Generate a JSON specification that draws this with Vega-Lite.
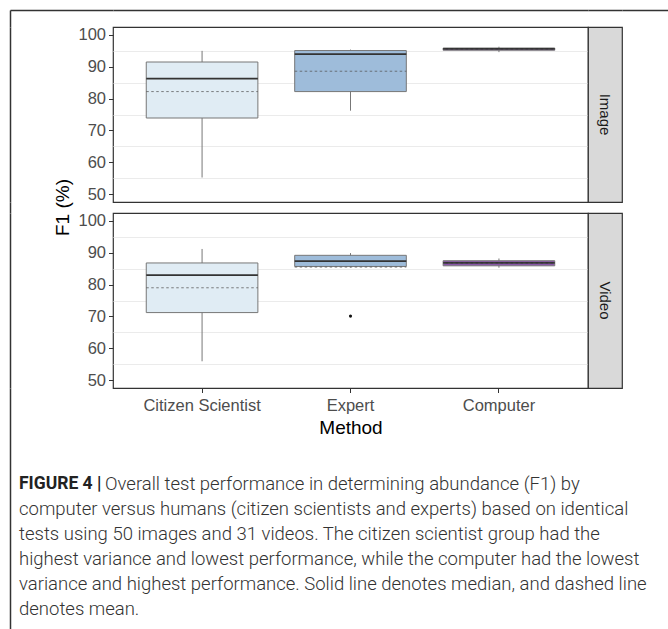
{
  "$schema": "https://vega.github.io/schema/vega-lite/v6.json",
  "padding": {"left": 10, "top": 10, "right": 0, "bottom": 0},
  "background": "white",
  "config": {
    "font": "Liberation Sans",
    "view": {"stroke": null},
    "axisY": {"domain": false, "tickColor": "#333", "tickSize": 4.5, "tickWidth": 1, "labelColor": "#4d4d4d", "labelFontSize": 16.5, "labelPadding": 3, "labelFont": "Liberation Sans", "labelOverlap": false},
    "axisX": {"domain": false, "grid": false, "tickColor": "#333", "tickSize": 4.5, "tickWidth": 1, "labelColor": "#4d4d4d", "labelFontSize": 16.5, "labelPadding": 5, "labelAngle": 0, "labelFont": "Liberation Sans", "titleFontSize": 19, "titleColor": "#000", "titleFontWeight": "normal", "titleFont": "Liberation Sans", "titlePadding": 4}
  },
  "datasets": {
    "box": [
      {"panel": "Image", "method": "Citizen Scientist", "lower": 55.2, "q1": 73.9, "median": 86.3, "q3": 91.5, "upper": 95.0, "mean": 82.2},
      {"panel": "Image", "method": "Expert", "lower": 76.2, "q1": 82.2, "median": 94.0, "q3": 95.1, "upper": 95.4, "mean": 88.6},
      {"panel": "Image", "method": "Computer", "lower": 94.6, "q1": 95.2, "median": 95.6, "q3": 95.9, "upper": 96.3, "mean": 95.5},
      {"panel": "Video", "method": "Citizen Scientist", "lower": 55.9, "q1": 71.2, "median": 83.0, "q3": 86.8, "upper": 91.2, "mean": 79.0},
      {"panel": "Video", "method": "Expert", "lower": 85.4, "q1": 85.7, "median": 87.4, "q3": 89.2, "upper": 89.9, "mean": 85.5},
      {"panel": "Video", "method": "Computer", "lower": 85.3, "q1": 85.9, "median": 86.8, "q3": 87.5, "upper": 88.2, "mean": 86.7}
    ],
    "outliers": [
      {"panel": "Video", "method": "Expert", "value": 70.1}
    ],
    "caption": [
      {"line": 1, "part": "bold", "text": "FIGURE 4 |"},
      {"line": 1, "part": "lead", "text": "Overall test performance in determining abundance (F1) by"},
      {"line": 2, "part": "body", "text": "computer versus humans (citizen scientists and experts) based on identical"},
      {"line": 3, "part": "body", "text": "tests using 50 images and 31 videos. The citizen scientist group had the"},
      {"line": 4, "part": "body", "text": "highest variance and lowest performance, while the computer had the lowest"},
      {"line": 5, "part": "body", "text": "variance and highest performance. Solid line denotes median, and dashed line"},
      {"line": 6, "part": "body", "text": "denotes mean."}
    ]
  },
  "bounds": "flush",
  "spacing": 0,
  "columns": 4,
  "concat": [
    {
      "width": 103, "height": 17, "data": {"values": []}, "mark": "point",
      "encoding": {
        "x": {"field": "v", "type": "quantitative", "scale": {"domain": [0, 1]}, "axis": {"orient": "top", "domain": true, "domainColor": "#333", "domainWidth": 1.5, "ticks": false, "labels": false, "grid": false, "title": null}},
        "y": {"field": "w", "type": "quantitative", "scale": {"domain": [0, 1]}, "axis": {"orient": "left", "domain": true, "domainColor": "#333", "domainWidth": 1.5, "ticks": false, "labels": false, "grid": false, "title": null}}
      }
    },
    {
      "width": 475, "height": 17, "data": {"values": []}, "mark": "point",
      "encoding": {"x": {"field": "v", "type": "quantitative", "scale": {"domain": [0, 1]}, "axis": {"orient": "top", "domain": true, "domainColor": "#333", "domainWidth": 1.5, "ticks": false, "labels": false, "grid": false, "title": null}}}
    },
    {
      "width": 34, "height": 17, "data": {"values": []}, "mark": "point",
      "encoding": {"x": {"field": "v", "type": "quantitative", "scale": {"domain": [0, 1]}, "axis": {"orient": "top", "domain": true, "domainColor": "#333", "domainWidth": 1.5, "ticks": false, "labels": false, "grid": false, "title": null}}}
    },
    {
      "width": 46, "height": 17, "data": {"values": []}, "mark": "point",
      "encoding": {"x": {"field": "v", "type": "quantitative", "scale": {"domain": [0, 1]}, "axis": {"orient": "top", "domain": true, "domainColor": "#333", "domainWidth": 1.5, "ticks": false, "labels": false, "grid": false, "title": null}}}
    },

    {
      "width": 103, "height": 175, "data": {"values": []}, "mark": "point",
      "encoding": {"y": {"field": "w", "type": "quantitative", "scale": {"domain": [0, 1]}, "axis": {"orient": "left", "domain": true, "domainColor": "#333", "domainWidth": 1.5, "ticks": false, "labels": false, "grid": false, "title": null}}}
    },
    {
      "width": 475, "height": 175,
      "view": {"stroke": "#333", "strokeWidth": 1.2},
      "data": {"name": "box"},
      "transform": [{"filter": "datum.panel === 'Image'"}],
      "resolve": {"axis": {"x": "independent", "y": "independent"}},
      "layer": [
        {
          "mark": {"type": "rule", "color": "#777", "strokeWidth": 1},
          "encoding": {
            "x": {"field": "method", "type": "nominal", "scale": {"type": "band", "domain": ["Citizen Scientist", "Expert", "Computer"], "paddingInner": 0.248, "paddingOuter": 0.224}, "axis": null},
            "y": {"field": "lower", "type": "quantitative", "scale": {"domain": [47.5, 102.5], "nice": false, "zero": false},
              "axis": {"orient": "left", "values": [50, 55, 60, 65, 70, 75, 80, 85, 90, 95, 100], "grid": true, "gridColor": "#ebebeb", "gridWidth": 1,
                "gridOpacity": {"condition": {"test": "datum.value % 10 === 0", "value": 0}, "value": 1},
                "tickOpacity": {"condition": {"test": "datum.value % 10 === 0", "value": 1}, "value": 0},
                "labelExpr": "datum.value % 10 === 0 ? datum.label : ''",
                "title": "F1 (%)", "titleX": -51, "titleY": 180, "titleAngle": -90, "titleBaseline": "middle", "titleAlign": "center", "titleFontSize": 19, "titleColor": "#000", "titleFontWeight": "normal", "titleFont": "Liberation Sans"}},
            "y2": {"field": "upper"}
          }
        },
        {
          "mark": {"type": "bar", "stroke": "#777", "strokeWidth": 1},
          "encoding": {
            "x": {"field": "method", "type": "nominal", "scale": {"type": "band", "domain": ["Citizen Scientist", "Expert", "Computer"], "paddingInner": 0.248, "paddingOuter": 0.224}, "axis": null},
            "y": {"field": "q1", "type": "quantitative", "scale": {"domain": [47.5, 102.5], "nice": false, "zero": false}, "axis": null},
            "y2": {"field": "q3"},
            "fill": {"field": "method", "type": "nominal", "scale": {"domain": ["Citizen Scientist", "Expert", "Computer"], "range": ["#e0ecf4", "#9ebcda", "#8856a7"]}, "legend": null}
          }
        },
        {
          "mark": {"type": "rule", "color": "#333", "strokeWidth": 1.8},
          "encoding": {
            "x": {"field": "method", "type": "nominal", "bandPosition": 0, "scale": {"type": "band", "domain": ["Citizen Scientist", "Expert", "Computer"], "paddingInner": 0.248, "paddingOuter": 0.224}, "axis": null},
            "x2": {"field": "method", "bandPosition": 1},
            "y": {"field": "median", "type": "quantitative", "scale": {"domain": [47.5, 102.5], "nice": false, "zero": false}, "axis": null}
          }
        },
        {
          "mark": {"type": "rule", "color": "#555", "opacity": 0.75, "strokeWidth": 1, "strokeDash": [2.5, 2.5]},
          "encoding": {
            "x": {"field": "method", "type": "nominal", "bandPosition": 0, "scale": {"type": "band", "domain": ["Citizen Scientist", "Expert", "Computer"], "paddingInner": 0.248, "paddingOuter": 0.224}, "axis": null},
            "x2": {"field": "method", "bandPosition": 1},
            "y": {"field": "mean", "type": "quantitative", "scale": {"domain": [47.5, 102.5], "nice": false, "zero": false}, "axis": null}
          }
        }
      ]
    },
    {
      "width": 34, "height": 175,
      "view": {"fill": "#d9d9d9", "stroke": "#333", "strokeWidth": 1.2},
      "data": {"values": [{"panel": "Image"}]},
      "mark": {"type": "text", "angle": 90, "fontSize": 15, "color": "#1a1a1a", "font": "Liberation Sans", "align": "center", "baseline": "middle"},
      "encoding": {"text": {"field": "panel"}}
    },
    {"width": 46, "height": 175, "data": {"values": []}, "mark": "point"},

    {
      "width": 103, "height": 11, "data": {"values": []}, "mark": "point",
      "encoding": {"y": {"field": "w", "type": "quantitative", "scale": {"domain": [0, 1]}, "axis": {"orient": "left", "domain": true, "domainColor": "#333", "domainWidth": 1.5, "ticks": false, "labels": false, "grid": false, "title": null}}}
    },
    {"width": 475, "height": 11, "data": {"values": []}, "mark": "point"},
    {"width": 34, "height": 11, "data": {"values": []}, "mark": "point"},
    {"width": 46, "height": 11, "data": {"values": []}, "mark": "point"},

    {
      "width": 103, "height": 175, "data": {"values": []}, "mark": "point",
      "encoding": {"y": {"field": "w", "type": "quantitative", "scale": {"domain": [0, 1]}, "axis": {"orient": "left", "domain": true, "domainColor": "#333", "domainWidth": 1.5, "ticks": false, "labels": false, "grid": false, "title": null}}}
    },
    {
      "width": 475, "height": 175,
      "view": {"stroke": "#333", "strokeWidth": 1.2},
      "resolve": {"axis": {"x": "independent", "y": "independent"}},
      "layer": [
        {
          "data": {"name": "box"},
          "transform": [{"filter": "datum.panel === 'Video'"}],
          "mark": {"type": "rule", "color": "#777", "strokeWidth": 1},
          "encoding": {
            "x": {"field": "method", "type": "nominal", "title": "Method", "scale": {"type": "band", "domain": ["Citizen Scientist", "Expert", "Computer"], "paddingInner": 0.248, "paddingOuter": 0.224}, "axis": {"orient": "bottom", "title": "Method"}},
            "y": {"field": "lower", "type": "quantitative", "title": null, "scale": {"domain": [47.5, 102.5], "nice": false, "zero": false},
              "axis": {"orient": "left", "values": [50, 55, 60, 65, 70, 75, 80, 85, 90, 95, 100], "grid": true, "gridColor": "#ebebeb", "gridWidth": 1, "gridOpacity": {"condition": {"test": "datum.value % 10 === 0", "value": 0}, "value": 1}, "tickOpacity": {"condition": {"test": "datum.value % 10 === 0", "value": 1}, "value": 0}, "labelExpr": "datum.value % 10 === 0 ? datum.label : ''", "title": null}},
            "y2": {"field": "upper"}
          }
        },
        {
          "data": {"name": "box"},
          "transform": [{"filter": "datum.panel === 'Video'"}],
          "mark": {"type": "bar", "stroke": "#777", "strokeWidth": 1},
          "encoding": {
            "x": {"field": "method", "type": "nominal", "scale": {"type": "band", "domain": ["Citizen Scientist", "Expert", "Computer"], "paddingInner": 0.248, "paddingOuter": 0.224}, "axis": null},
            "y": {"field": "q1", "type": "quantitative", "scale": {"domain": [47.5, 102.5], "nice": false, "zero": false}, "axis": null},
            "y2": {"field": "q3"},
            "fill": {"field": "method", "type": "nominal", "scale": {"domain": ["Citizen Scientist", "Expert", "Computer"], "range": ["#e0ecf4", "#9ebcda", "#8856a7"]}, "legend": null}
          }
        },
        {
          "data": {"name": "box"},
          "transform": [{"filter": "datum.panel === 'Video'"}],
          "mark": {"type": "rule", "color": "#333", "strokeWidth": 1.8},
          "encoding": {
            "x": {"field": "method", "type": "nominal", "bandPosition": 0, "scale": {"type": "band", "domain": ["Citizen Scientist", "Expert", "Computer"], "paddingInner": 0.248, "paddingOuter": 0.224}, "axis": null},
            "x2": {"field": "method", "bandPosition": 1},
            "y": {"field": "median", "type": "quantitative", "scale": {"domain": [47.5, 102.5], "nice": false, "zero": false}, "axis": null}
          }
        },
        {
          "data": {"name": "box"},
          "transform": [{"filter": "datum.panel === 'Video'"}],
          "mark": {"type": "rule", "color": "#555", "opacity": 0.75, "strokeWidth": 1, "strokeDash": [2.5, 2.5]},
          "encoding": {
            "x": {"field": "method", "type": "nominal", "bandPosition": 0, "scale": {"type": "band", "domain": ["Citizen Scientist", "Expert", "Computer"], "paddingInner": 0.248, "paddingOuter": 0.224}, "axis": null},
            "x2": {"field": "method", "bandPosition": 1},
            "y": {"field": "mean", "type": "quantitative", "scale": {"domain": [47.5, 102.5], "nice": false, "zero": false}, "axis": null}
          }
        },
        {
          "data": {"name": "outliers"},
          "mark": {"type": "point", "filled": true, "color": "#111", "size": 10, "opacity": 1},
          "encoding": {
            "x": {"field": "method", "type": "nominal", "scale": {"type": "band", "domain": ["Citizen Scientist", "Expert", "Computer"], "paddingInner": 0.248, "paddingOuter": 0.224}, "axis": null},
            "y": {"field": "value", "type": "quantitative", "scale": {"domain": [47.5, 102.5], "nice": false, "zero": false}, "axis": null}
          }
        }
      ]
    },
    {
      "width": 34, "height": 175,
      "view": {"fill": "#d9d9d9", "stroke": "#333", "strokeWidth": 1.2},
      "data": {"values": [{"panel": "Video"}]},
      "mark": {"type": "text", "angle": 90, "fontSize": 15, "color": "#1a1a1a", "font": "Liberation Sans", "align": "center", "baseline": "middle"},
      "encoding": {"text": {"field": "panel"}}
    },
    {"width": 46, "height": 175, "data": {"values": []}, "mark": "point"},

    {
      "width": 103, "height": 241,
      "data": {"name": "caption"},
      "encoding": {
        "y": {"field": "line", "type": "quantitative", "scale": {"domain": [-2.84, 6.8], "reverse": true, "nice": false, "zero": false},
          "axis": {"orient": "left", "domain": true, "domainColor": "#333", "domainWidth": 1.5, "ticks": false, "labels": false, "grid": false, "title": null}},
        "text": {"field": "text"}
      },
      "layer": [
        {"transform": [{"filter": "datum.part === 'bold'"}], "mark": {"type": "text", "align": "left", "baseline": "middle", "dx": -42.5, "font": "Roboto", "fontSize": 17.5, "fontWeight": "bold", "color": "#222"}},
        {"transform": [{"filter": "datum.part === 'lead'"}], "mark": {"type": "text", "align": "left", "baseline": "middle", "dx": 43.5, "font": "Roboto", "fontSize": 18.5, "fontWeight": 300, "color": "#333"}},
        {"transform": [{"filter": "datum.part === 'body'"}], "mark": {"type": "text", "align": "left", "baseline": "middle", "dx": -42.5, "font": "Roboto", "fontSize": 18.5, "fontWeight": 300, "color": "#333"}}
      ]
    },
    {"width": 475, "height": 241, "data": {"values": []}, "mark": "point"},
    {"width": 34, "height": 241, "data": {"values": []}, "mark": "point"},
    {"width": 46, "height": 241, "data": {"values": []}, "mark": "point"}
  ]
}
